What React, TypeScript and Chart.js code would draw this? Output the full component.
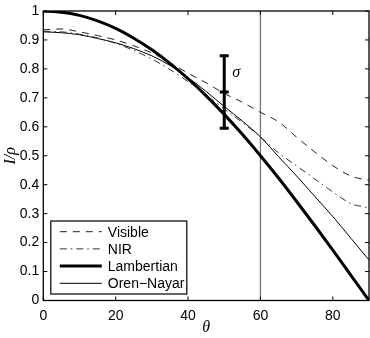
import React, { useEffect, useRef } from "react";
import { Chart, registerables } from "chart.js";
Chart.register(...registerables);

const theta = [0, 5, 10, 15, 20, 25, 30, 35, 40, 45, 50, 55, 60, 65, 70, 75, 80, 85, 90];
const visible = [0.935, 0.938, 0.928, 0.915, 0.9, 0.88, 0.855, 0.822, 0.785, 0.752, 0.715, 0.685, 0.65, 0.617, 0.564, 0.513, 0.466, 0.43, 0.415];
const nir = [0.93, 0.928, 0.92, 0.907, 0.888, 0.864, 0.834, 0.798, 0.756, 0.71, 0.662, 0.615, 0.565, 0.51, 0.465, 0.42, 0.375, 0.335, 0.32];
const lambertian = [1, 0.996, 0.985, 0.966, 0.94, 0.906, 0.866, 0.819, 0.766, 0.707, 0.643, 0.574, 0.5, 0.423, 0.342, 0.259, 0.174, 0.087, 0];
const orenNayar = [0.928, 0.925, 0.918, 0.905, 0.89, 0.87, 0.845, 0.812, 0.77, 0.722, 0.67, 0.62, 0.565, 0.497, 0.43, 0.36, 0.29, 0.215, 0.14];
const markerTheta = 60;
const errTheta = 50;
const errCenter = 0.72;
const errHalf = 0.125;
const sigmaPos = [53.3, 0.785];
const xTicks = [0, 20, 40, 60, 80];
const yTicks = [0, 0.1, 0.2, 0.3, 0.4, 0.5, 0.6, 0.7, 0.8, 0.9, 1];
const seriesNames = ["Visible", "NIR", "Lambertian", "Oren\u2212Nayar"];

const toPts = (ys: number[]) => theta.map((t, i) => ({ x: t, y: ys[i] }));

const SANS = "'Liberation Sans', Arial, sans-serif";
const SERIF = "'Liberation Serif', 'Times New Roman', serif";

export default function App() {
  const ref = useRef<HTMLCanvasElement | null>(null);
  useEffect(() => {
    if (!ref.current) return;
    const styles = [
      { color: "#222", width: 1, dash: [7, 6] },
      { color: "#333", width: 1, dash: [7, 4, 1.5, 4] },
      { color: "#000", width: 3, dash: [] as number[] },
      { color: "#000", width: 1, dash: [] as number[] },
    ];
    const decor = {
      id: "decor",
      afterDatasetsDraw(chart: any) {
        const ctx = chart.ctx;
        const { left, right, top, bottom } = chart.chartArea;
        const xs = chart.scales.x;
        const ys = chart.scales.y;
        ctx.save();
        ctx.strokeStyle = "#000";
        ctx.lineWidth = 1.3;
        ctx.setLineDash([]);
        ctx.strokeRect(left, top, right - left, bottom - top);
        ctx.lineWidth = 1;
        const tl = 4;
        ctx.beginPath();
        xTicks.forEach((v) => {
          const px = xs.getPixelForValue(v);
          ctx.moveTo(px, bottom);
          ctx.lineTo(px, bottom - tl);
          ctx.moveTo(px, top);
          ctx.lineTo(px, top + tl);
        });
        yTicks.forEach((v) => {
          const py = ys.getPixelForValue(v);
          ctx.moveTo(left, py);
          ctx.lineTo(left + tl, py);
          ctx.moveTo(right, py);
          ctx.lineTo(right - tl, py);
        });
        ctx.stroke();
        ctx.fillStyle = "#000";
        ctx.font = `italic 16px ${SERIF}`;
        ctx.textAlign = "center";
        ctx.textBaseline = "middle";
        ctx.fillText("\u03c3", xs.getPixelForValue(sigmaPos[0]), ys.getPixelForValue(sigmaPos[1]));
        ctx.fillText("\u03b8", (left + right) / 2, 328);
        ctx.save();
        ctx.translate(11, (top + bottom) / 2);
        ctx.rotate(-Math.PI / 2);
        ctx.fillText("I/\u03c1", 0, 0);
        ctx.restore();
        const bx = left + 7.5;
        const by = top + 210;
        const bw = 136;
        const bh = 73;
        ctx.fillStyle = "#fff";
        ctx.fillRect(bx, by, bw, bh);
        ctx.strokeStyle = "#000";
        ctx.lineWidth = 1.2;
        ctx.strokeRect(bx, by, bw, bh);
        ctx.font = `14px ${SANS}`;
        ctx.textAlign = "left";
        seriesNames.forEach((name, i) => {
          const yy = by + 10.7 + i * 17.2;
          const st = styles[i];
          ctx.strokeStyle = st.color;
          ctx.lineWidth = st.width;
          ctx.setLineDash(st.dash);
          ctx.beginPath();
          ctx.moveTo(bx + 9, yy);
          ctx.lineTo(bx + 51, yy);
          ctx.stroke();
          ctx.setLineDash([]);
          ctx.fillStyle = "#000";
          ctx.fillText(name, bx + 57, yy + 1);
        });
        ctx.restore();
      },
    };
    const series = [visible, nir, lambertian, orenNayar];
    const datasets: any[] = series.map((ys, i) => ({
      label: seriesNames[i],
      data: toPts(ys),
      showLine: true,
      borderColor: styles[i].color,
      borderWidth: styles[i].width,
      borderDash: styles[i].dash,
      pointRadius: 0,
      tension: 0.4,
      cubicInterpolationMode: "monotone",
      fill: false,
    }));
    datasets.push({
      label: "marker",
      data: [
        { x: markerTheta, y: 0 },
        { x: markerTheta, y: 1 },
      ],
      showLine: true,
      borderColor: "#777",
      borderWidth: 1.3,
      pointRadius: 0,
      fill: false,
    });
    datasets.push({
      label: "error",
      data: [
        { x: errTheta, y: errCenter - errHalf },
        { x: errTheta, y: errCenter },
        { x: errTheta, y: errCenter + errHalf },
      ],
      showLine: true,
      borderColor: "#000",
      borderWidth: 3,
      pointStyle: "line",
      pointRadius: 4.5,
      pointBorderWidth: 3,
      pointBorderColor: "#000",
      fill: false,
    });
    const chart = new Chart(ref.current, {
      type: "scatter",
      data: { datasets },
      options: {
        animation: false,
        responsive: false,
        maintainAspectRatio: false,
        layout: { autoPadding: false, padding: { top: 11, right: 1, left: 0, bottom: 0 } },
        plugins: { legend: { display: false }, tooltip: { enabled: false } },
        scales: {
          x: {
            type: "linear",
            min: 0,
            max: 90,
            afterBuildTicks: (s: any) => {
              s.ticks = xTicks.map((v) => ({ value: v }));
            },
            afterFit: (s: any) => {
              s.height = 37.5;
              s.paddingLeft = 0;
              s.paddingRight = 0;
            },
            grid: { display: false, drawTicks: false },
            border: { display: false },
            ticks: { color: "#000", font: { family: SANS, size: 14 }, padding: 7, maxRotation: 0 },
          },
          y: {
            type: "linear",
            min: 0,
            max: 1,
            afterBuildTicks: (s: any) => {
              s.ticks = yTicks.map((v) => ({ value: v }));
            },
            afterFit: (s: any) => {
              s.width = 43.3;
              s.paddingTop = 0;
              s.paddingBottom = 0;
            },
            grid: { display: false, drawTicks: false },
            border: { display: false },
            ticks: {
              color: "#000",
              font: { family: SANS, size: 14 },
              padding: 4,
              callback: (v: any) => String(Math.round(Number(v) * 10) / 10),
            },
          },
        },
      },
      plugins: [decor],
    });
    return () => chart.destroy();
  }, []);
  return (
    <div style={{ position: "absolute", left: 0, top: 0, width: 370, height: 338, background: "#fff" }}>
      <canvas ref={ref} width={370} height={338} style={{ width: 370, height: 338, display: "block" }} />
    </div>
  );
}
